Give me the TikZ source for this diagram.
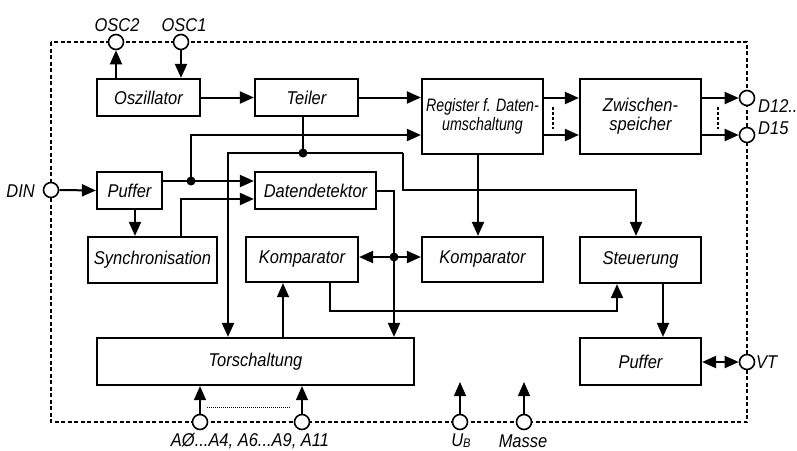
\documentclass[tikz,border=0pt]{standalone}
\usepackage{fontspec}
\setmainfont{Liberation Sans}[FakeStretch=0.89]
\newfontfamily\regfont{Liberation Sans}[FakeStretch=0.79]
\usetikzlibrary{arrows.meta}
\begin{document}
\begin{tikzpicture}[x=1pt,y=-1pt,
  every node/.style={font=\fontsize{18.5}{19}\selectfont\itshape},
  box/.style={draw, line width=2.2pt, inner sep=0pt, align=center},
  conn/.style={line width=2pt},
  thinl/.style={line width=1.2pt},
  arr/.style={conn, -{Triangle[length=14pt,width=12pt]}},
  darr/.style={conn, {Triangle[length=14pt,width=12pt]}-{Triangle[length=14pt,width=12pt]}},
  tarr/.style={thinl, -{Triangle[length=14pt,width=12pt]}},
  pin/.style={circle, draw, fill=white, line width=1.6pt, minimum size=15pt, inner sep=0pt},
  dot/.style={circle, fill=black, minimum size=9pt, inner sep=0pt},
  lbl/.style={inner sep=0pt},
  border/.style={line width=1.6pt, dash pattern=on 4pt off 2.5pt}
]
\fill[white] (0,0) rectangle (797,450);
\useasboundingbox (0,0) rectangle (797,450);

% border
\draw[border] (51,42) rectangle (747,422);

% boxes
\node[box, minimum width=103pt, minimum height=37pt] (osc) at (148.5,97.5) {Oszillator};
\node[box, minimum width=103pt, minimum height=37pt] (teiler) at (306.5,97.5) {Teiler};
\node[box, minimum width=121pt, minimum height=75pt, font=\regfont\fontsize{18}{18.5}\selectfont\itshape] (reg) at (482.5,116.5) {Register f. Daten-\\umschaltung};
\node[box, minimum width=121pt, minimum height=75pt] (zw) at (640.5,116.5) {Zwischen-\\speicher};
\node[box, minimum width=65pt, minimum height=37pt] (puf1) at (129.5,190.5) {Puffer};
\node[box, minimum width=121pt, minimum height=37pt] (dd) at (315.5,190.5) {Datendetektor};
\node[box, minimum width=129pt, minimum height=46pt] (sync) at (152.5,260) {Synchronisation};
\node[box, minimum width=112pt, minimum height=45pt] (k1) at (302,259.5) {Komparator};
\node[box, minimum width=121pt, minimum height=45pt] (k2) at (482.5,259.5) {Komparator};
\node[box, minimum width=121pt, minimum height=46pt] (st) at (640.5,260) {Steuerung};
\node[box, minimum width=317pt, minimum height=47pt] (tor) at (255.5,361.5) {Torschaltung};
\node[box, minimum width=121pt, minimum height=47pt] (puf2) at (640.5,361.5) {Puffer};

% pins
\node[pin] (osc2) at (116,42) {};
\node[pin] (osc1) at (181,42) {};
\node[pin] (d12) at (747,98) {};
\node[pin] (d15) at (747,135) {};
\node[pin] (din) at (51,190) {};
\node[pin] (vt) at (747,362) {};
\node[pin] (a0) at (200,422) {};
\node[pin] (a11) at (302,422) {};
\node[pin] (ub) at (460,422) {};
\node[pin] (masse) at (524,422) {};

% pin labels
\node[lbl] (losc2) at (117,25) {OSC2};
\node[lbl] (losc1) at (184,25) {OSC1};
\node[lbl, anchor=east] (ldin) at (35,191) {DIN};
\node[lbl, anchor=west] (ld12) at (758,106) {D12..};
\node[lbl, anchor=west] (ld15) at (758,128) {D15};
\node[lbl, anchor=west] (lvt) at (756,362) {VT};
\node[lbl] (la) at (250,441) {AØ...A4, A6...A9, A11};
\node[lbl] (lub) at (461,441) {U\raisebox{-1pt}{\fontsize{12.5}{12.5}\selectfont B}};
\node[lbl] (lmasse) at (523,441) {Masse};

% coordinates
\coordinate (j1) at (191,181);
\coordinate (y135) at (0,135);
\coordinate (j2) at (303,153);
\coordinate (p1) at (228,153);
\coordinate (p2) at (403,153);
\coordinate (p3) at (403,190);
\coordinate (p4) at (636,190);
\coordinate (r1) at (478,0);
\coordinate (s1) at (181,199);
\coordinate (x135) at (135,0);
\coordinate (j3) at (394,257);
\coordinate (q1) at (330,311);
\coordinate (q2) at (617,311);
\coordinate (t1) at (283,0);
\coordinate (v1) at (663,0);
\coordinate (ubt) at (460,382);
\coordinate (mat) at (524,382);

% connectors top
\draw[arr] (osc.north -| osc2) -- (osc2.south);
\draw[arr] (osc1.south) -- (osc.north -| osc1);
\draw[arr] (osc.east) -- (teiler.west);
\draw[arr] (teiler.east) -- (teiler.east -| reg.west);
\draw[arr] (reg.east |- d12) -- (zw.west |- d12);
\draw[arr] (reg.east |- d15) -- (zw.west |- d15);
\draw[arr] (zw.east |- d12) -- (d12.west);
\draw[arr] (zw.east |- d15) -- (d15.west);
\draw[line width=1.5pt, dash pattern=on 3pt off 2pt] (553,107) -- (553,129);
\draw[line width=1.5pt, dash pattern=on 3pt off 2pt] (718,107) -- (718,129);

% DIN / Puffer
\draw[arr] (din.east) -- (puf1.west);
\draw[arr] (puf1.east |- j1) -- (dd.west |- j1);
\draw[arr] (j1) |- (reg.west |- y135);
\node[dot] (dj1) at (j1) {};
\draw[arr] (puf1.south -| x135) -- (sync.north -| x135);
\draw[arr] (sync.north -| s1) -- (s1) -- (dd.west |- s1);

% Teiler distribution
\draw[thinl] (teiler.south -| j2) -- (j2);
\draw[arr] (p2) -- (p1) -- (tor.north -| p1);
\draw[arr] (p2) -- (p3) -- (p4) -- (st.north -| p4);
\node[dot] (dj2) at (j2) {};

% Register to Komparator
\draw[arr] (reg.south -| r1) -- (k2.north -| r1);

% Datendetektor
\draw[arr] (dd.east) -| (tor.north -| j3);
\draw[darr] (k1.east |- j3) -- (k2.west |- j3);
\node[dot] (dj3) at (j3) {};

% Komparator to Steuerung
\draw[arr] (k1.south -| q1) -- (q1) -- (q2) -- (st.south -| q2);
\draw[tarr] (tor.north -| t1) -- (k1.south -| t1);

% Steuerung to Puffer
\draw[arr] (st.south -| v1) -- (puf2.north -| v1);
\draw[darr] (puf2.east |- vt) -- (vt.west);

% address pins
\draw[tarr] (a0.north) -- (tor.south -| a0);
\draw[tarr] (a11.north) -- (tor.south -| a11);
\draw[line width=0.8pt, dash pattern=on 1pt off 1pt] (207,407) -- (291,407);

% supply
\draw[tarr] (ub.north) -- (ubt);
\draw[tarr] (masse.north) -- (mat);
\end{tikzpicture}
\end{document}
